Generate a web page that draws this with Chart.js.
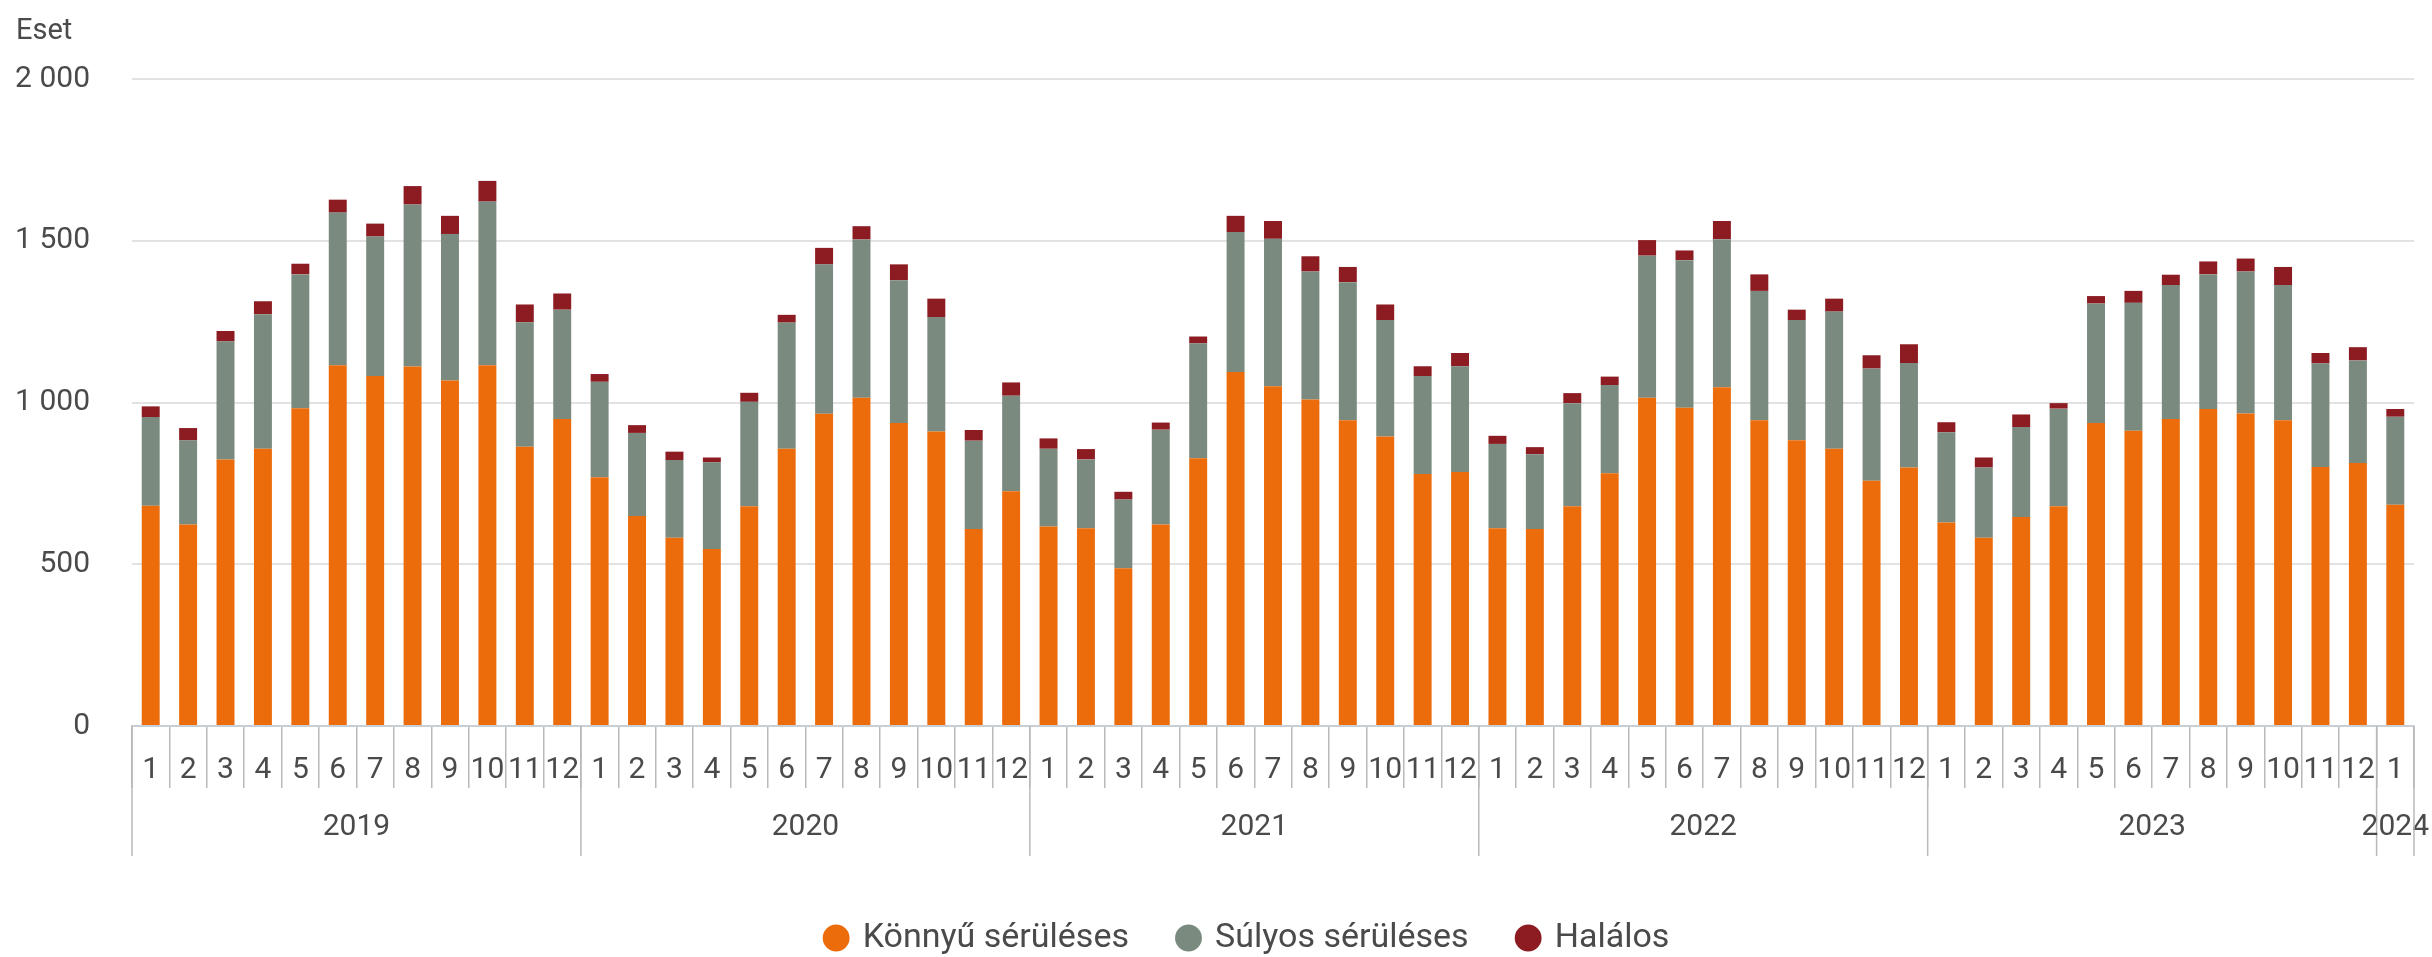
<!DOCTYPE html>
<html lang="hu">
<head>
<meta charset="utf-8">
<title>Személysérüléses közúti közlekedési balesetek</title>
<script src="https://cdn.jsdelivr.net/npm/chart.js@4.4.1/dist/chart.umd.min.js"></script>
<style>
  html, body { margin: 0; padding: 0; background: #fff; }
  #wrap { position: relative; width: 2432px; height: 957px; }
</style>
</head>
<body>
<div id="wrap"><canvas id="chart"></canvas></div>
<script>
// évek és hónapok száma évente
const years = ['2019', '2020', '2021', '2022', '2023', '2024'];
const monthsPerYear = [12, 12, 12, 12, 12, 1];

// Könnyű sérüléses
const konnyu = [
  681, 623, 824, 857, 982, 1115, 1082, 1111, 1068, 1115, 863, 949,
  769, 649, 582, 547, 679, 857, 965, 1015, 937, 910, 609, 726,
  617, 611, 488, 623, 828, 1094, 1050, 1009, 945, 895, 779, 785,
  611, 609, 679, 781, 1015, 984, 1047, 945, 883, 857, 758, 799,
  629, 582, 646, 679, 937, 913, 949, 980, 966, 945, 801, 813,
  684
];

// Súlyos sérüléses
const sulyos = [
  274, 260, 365, 416, 414, 472, 431, 501, 453, 506, 385, 338,
  295, 257, 240, 268, 323, 390, 462, 489, 441, 354, 273, 295,
  240, 213, 212, 293, 355, 433, 456, 396, 427, 360, 303, 327,
  261, 231, 319, 273, 439, 456, 458, 400, 372, 424, 347, 323,
  279, 217, 278, 302, 369, 395, 414, 416, 439, 418, 320, 317,
  272
];

// Halálos
const halalos = [
  33, 38, 32, 40, 33, 40, 40, 57, 56, 64, 55, 50,
  24, 24, 26, 15, 28, 24, 51, 41, 49, 57, 33, 41,
  32, 32, 24, 22, 21, 50, 55, 47, 47, 48, 30, 41,
  25, 22, 31, 26, 48, 30, 56, 51, 32, 40, 41, 58,
  31, 31, 39, 17, 23, 37, 32, 40, 40, 56, 32, 41,
  24
];

const yTicks = [0, 500, 1000, 1500, 2000];

// hónap címkék (1..12 évente)
const monthLabels = [];
monthsPerYear.forEach(n => {
  for (let m = 1; m <= n; m++) monthLabels.push(String(m));
});

const FONT = "'Roboto', sans-serif";
const TEXT = '#4a4a4a';
const SEP = '#b9b9b9';

function fmt(v) {
  return String(v).replace(/\B(?=(\d{3})+(?!\d))/g, ' ');
}

// évek sora az x tengely alatt + "Eset" felirat
const yearAxis = {
  id: 'yearAxis',
  afterLayout(chart) {
    // a jelmagyarázat a rajzterület közepéhez igazodik
    const shift = 33;
    chart.legend.left += shift;
    chart.legend.right += shift;
  },
  afterDraw(chart) {
    const x = chart.scales.x;
    const ctx = chart.ctx;
    const half = (x.getPixelForValue(1) - x.getPixelForValue(0)) / 2;
    const top = x.top;
    ctx.save();
    ctx.strokeStyle = SEP;
    ctx.lineWidth = 1.5;
    ctx.fillStyle = TEXT;
    ctx.font = '30px ' + FONT;
    ctx.textAlign = 'center';
    ctx.textBaseline = 'middle';
    let idx = 0;
    let end = 0;
    years.forEach((yr, k) => {
      const start = x.getPixelForValue(idx) - half;
      end = x.getPixelForValue(idx + monthsPerYear[k] - 1) + half;
      ctx.beginPath();
      ctx.moveTo(start, top);
      ctx.lineTo(start, top + 130);
      ctx.stroke();
      ctx.fillText(yr, (start + end) / 2, top + 101);
      idx += monthsPerYear[k];
    });
    ctx.beginPath();
    ctx.moveTo(end, top);
    ctx.lineTo(end, top + 130);
    ctx.stroke();

    ctx.textAlign = 'left';
    ctx.font = '29px ' + FONT;
    ctx.fillText('Eset', 16, 32);
    ctx.restore();
  }
};

new Chart(document.getElementById('chart'), {
  type: 'bar',
  data: {
    labels: monthLabels,
    datasets: [
      { label: 'Könnyű sérüléses', data: konnyu, backgroundColor: '#ec6c0c' },
      { label: 'Súlyos sérüléses', data: sulyos, backgroundColor: '#7b8a7e' },
      { label: 'Halálos', data: halalos, backgroundColor: '#8c1b22' }
    ]
  },
  options: {
    responsive: true,
    maintainAspectRatio: false,
    animation: false,
    datasets: {
      bar: { categoryPercentage: 1, barPercentage: 0.48 }
    },
    layout: { padding: { top: 79, left: 16, right: 18, bottom: -8 } },
    plugins: {
      legend: {
        position: 'bottom',
        labels: {
          usePointStyle: true,
          pointStyle: 'circle',
          boxWidth: 19,
          boxHeight: 19,
          padding: 50,
          color: TEXT,
          font: { family: FONT, size: 34 }
        }
      },
      tooltip: { enabled: false }
    },
    scales: {
      x: {
        stacked: true,
        grid: {
          offset: true,
          drawOnChartArea: false,
          drawTicks: true,
          tickLength: 62,
          color: SEP,
          lineWidth: 1.5
        },
        border: { display: true, color: '#c9ced4', width: 2 },
        ticks: {
          color: TEXT,
          padding: -36,
          maxRotation: 0,
          autoSkip: false,
          font: { family: FONT, size: 30 }
        },
        afterFit(scale) { scale.height = 145; }
      },
      y: {
        stacked: true,
        min: 0,
        max: 2000,
        afterBuildTicks(scale) { scale.ticks = yTicks.map(v => ({ value: v })); },
        afterFit(scale) { scale.width = 116; },
        grid: { color: '#e2e2e2', lineWidth: 2, drawTicks: false },
        border: { display: false },
        ticks: {
          color: TEXT,
          padding: 42,
          font: { family: FONT, size: 30 },
          callback: v => fmt(v)
        }
      }
    }
  },
  plugins: [yearAxis]
});
</script>
</body>
</html>
